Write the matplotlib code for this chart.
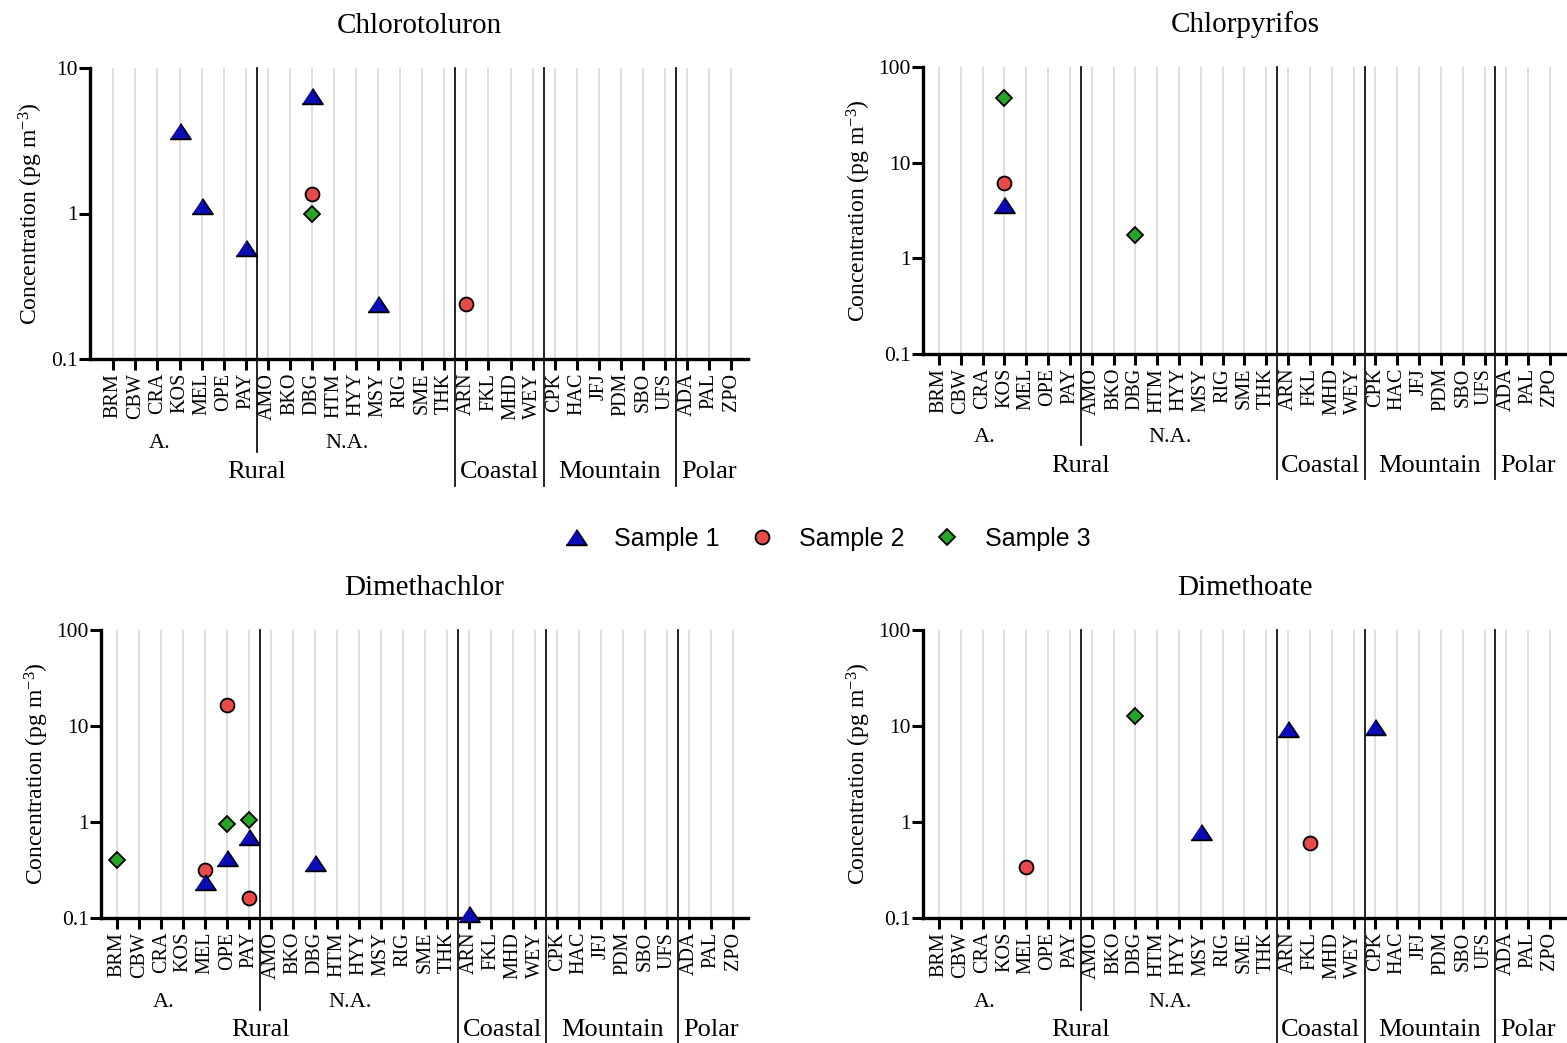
import matplotlib

matplotlib.use("Agg")
import matplotlib.pyplot as plt
import numpy as np
from matplotlib.lines import Line2D

plt.rcParams["font.family"] = ["Liberation Serif", "DejaVu Serif"]
plt.rcParams["mathtext.fontset"] = "custom"
plt.rcParams["mathtext.rm"] = "Liberation Serif"
plt.rcParams["mathtext.it"] = "Liberation Serif:italic"

# sites along the x axis, in plotting order
SITES = [
    "BRM", "CBW", "CRA", "KOS", "MEL", "OPE", "PAY",
    "AMO", "BKO", "DBG", "HTM", "HYY", "MSY", "RIG", "SME", "THK",
    "ARN", "FKL", "MHD", "WEY",
    "CPK", "HAC", "JFJ", "PDM", "SBO", "UFS",
    "ADA", "PAL", "ZPO",
]
GROUP_NAMES = ["Rural", "Coastal", "Mountain", "Polar"]
GROUP_CENTERS = [6.5, 17.5, 22.5, 27.0]
SUBGROUP_NAMES = ["A.", "N.A."]
SUBGROUP_CENTERS = [2.1, 10.6]
GROUP_BOUNDS = [15.5, 19.5, 25.5]
SUBGROUP_BOUND = 6.5

# concentrations (pg m-3)
chlorotoluron_s1 = {"KOS": 3.7, "MEL": 1.12, "PAY": 0.575, "DBG": 6.4, "MSY": 0.237}
chlorotoluron_s2 = {"DBG": 1.37, "ARN": 0.237}
chlorotoluron_s3 = {"DBG": 1.0}

chlorpyrifos_s1 = {"KOS": 3.6}
chlorpyrifos_s2 = {"KOS": 6.2}
chlorpyrifos_s3 = {"KOS": 47.0, "DBG": 1.75}

dimethachlor_s1 = {"MEL": 0.235, "OPE": 0.42, "PAY": 0.70, "DBG": 0.37, "ARN": 0.11}
dimethachlor_s2 = {"MEL": 0.315, "OPE": 16.7, "PAY": 0.163}
dimethachlor_s3 = {"BRM": 0.40, "OPE": 0.95, "PAY": 1.05}

dimethoate_s1 = {"MSY": 0.79, "ARN": 9.2, "CPK": 9.7}
dimethoate_s2 = {"MEL": 0.34, "FKL": 0.61}
dimethoate_s3 = {"DBG": 12.6}

SAMPLE_LABELS = ["Sample 1", "Sample 2", "Sample 3"]

FIG_W, FIG_H = 1567, 1043
TRIANGLE = [(-1.0, -0.75), (1.0, -0.75), (0.0, 0.75)]
SAMPLE_STYLES = [
    dict(marker=TRIANGLE, markersize=15, markerfacecolor="#0c0cb4", zorder=6),
    dict(marker="o", markersize=10, markerfacecolor="#e84a4a", zorder=5),
    dict(marker="D", markersize=8.5, markerfacecolor="#27a527", zorder=5),
]


def axes_rect(left, right, top, bottom):
    """Convert pixel edges to a figure-fraction rectangle."""

    return [left / FIG_W, 1 - bottom / FIG_H, (right - left) / FIG_W, (bottom - top) / FIG_H]


def draw_panel(fig, rect, xlim, title, ylim, samples):
    ax = fig.add_axes(rect)
    x = np.arange(len(SITES))
    ax.set_yscale("log")
    ax.set_ylim(*ylim)
    ax.set_xlim(*xlim)

    for xi in x:
        ax.axvline(xi, color="#d9d9d9", lw=1.2, zorder=1)

    trans = ax.get_xaxis_transform()
    ax.plot([SUBGROUP_BOUND, SUBGROUP_BOUND], [1, -0.318], transform=trans,
            color="#111111", lw=1.3, clip_on=False, zorder=2)
    for xb in GROUP_BOUNDS:
        ax.plot([xb, xb], [1, -0.437], transform=trans,
                color="#111111", lw=1.3, clip_on=False, zorder=2)

    for values, style in zip(samples, SAMPLE_STYLES):
        xs = [SITES.index(site) for site in values]
        ys = list(values.values())
        ax.plot(xs, ys, linestyle="none", markeredgecolor="black",
                markeredgewidth=1.3, clip_on=False, **style)

    ax.set_xticks(x)
    ax.set_xticklabels(SITES, rotation=90, fontsize=14.5, va="top")
    decades = 10.0 ** np.arange(np.log10(ylim[0]), np.log10(ylim[1]) + 0.5)
    ax.set_yticks(decades)
    ax.set_yticklabels([f"{d:g}" for d in decades], fontsize=15.5)
    ax.yaxis.set_minor_locator(matplotlib.ticker.NullLocator())
    ax.tick_params(axis="both", which="major", length=8, width=2.2, color="black")
    ax.tick_params(axis="x", pad=2)
    ax.tick_params(axis="y", pad=1)

    for side in ("top", "right"):
        ax.spines[side].set_visible(False)
    for side in ("left", "bottom"):
        ax.spines[side].set_linewidth(2.4)

    for name, cx in zip(SUBGROUP_NAMES, SUBGROUP_CENTERS):
        ax.text(cx, -0.292, name, transform=trans, ha="center", va="center", fontsize=16)
    for name, cx in zip(GROUP_NAMES, GROUP_CENTERS):
        ax.text(cx, -0.39, name, transform=trans, ha="center", va="center", fontsize=19)

    ax.set_ylabel(r"Concentration (pg m$^{\mathregular{-3}}$)", fontsize=17, labelpad=4)
    ax.set_title(title, fontsize=21, pad=25)
    return ax


def main():
    fig = plt.figure(figsize=(FIG_W / 100, FIG_H / 100), dpi=100)

    draw_panel(fig, axes_rect(90, 748, 68, 359), (-1.056, 28.76), "Chlorotoluron",
               (0.1, 10), [chlorotoluron_s1, chlorotoluron_s2, chlorotoluron_s3])
    draw_panel(fig, axes_rect(923, 1567, 67, 354), (-0.733, 28.78), "Chlorpyrifos",
               (0.1, 100), [chlorpyrifos_s1, chlorpyrifos_s2, chlorpyrifos_s3])
    draw_panel(fig, axes_rect(101, 748, 630, 918), (-0.74, 28.67), "Dimethachlor",
               (0.1, 100), [dimethachlor_s1, dimethachlor_s2, dimethachlor_s3])
    draw_panel(fig, axes_rect(923, 1567, 630, 918), (-0.733, 28.78), "Dimethoate",
               (0.1, 100), [dimethoate_s1, dimethoate_s2, dimethoate_s3])

    handles = [
        Line2D([], [], linestyle="none", markeredgecolor="black", markeredgewidth=1.3,
               label=label, **{k: v for k, v in style.items() if k != "zorder"})
        for label, style in zip(SAMPLE_LABELS, SAMPLE_STYLES)
    ]
    fig.legend(handles=handles, loc="center", bbox_to_anchor=(826 / FIG_W, 1 - 539 / FIG_H),
               ncol=3, frameon=False, prop={"family": "Liberation Sans", "size": 18},
               handlelength=1.2, handletextpad=0.9, columnspacing=1.1)

    fig.savefig("out.png", dpi=100)
    plt.close(fig)


if __name__ == "__main__":
    main()
